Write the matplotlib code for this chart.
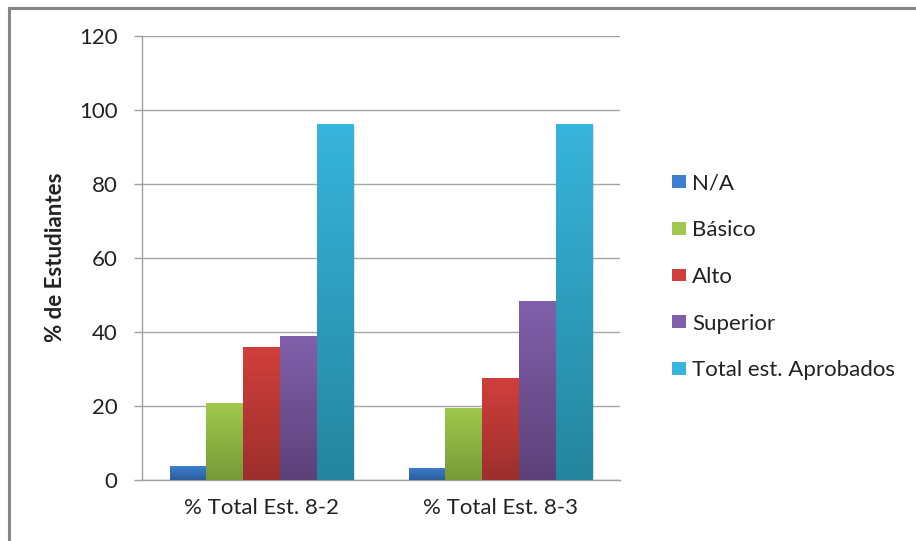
import numpy as np
import matplotlib.pyplot as plt
from matplotlib.colors import LinearSegmentedColormap
from matplotlib.patches import Rectangle, Patch

# datos del gráfico
grupos = ["% Total Est. 8-2", "% Total Est. 8-3"]
niveles = ["N/A", "Básico", "Alto", "Superior", "Total est. Aprobados"]
na = [3.7, 3.3]
basico = [20.7, 19.5]
alto = [35.9, 27.5]
superior = [38.8, 48.4]
aprobados = [96.3, 96.3]
valores = [na, basico, alto, superior, aprobados]

# colores (arriba, abajo) para el degradado de cada serie
colores = [("#3d7fcf", "#2c5d9a"),
           ("#a0c84c", "#789a38"),
           ("#d13f3c", "#9c2f2c"),
           ("#8160ab", "#5c4179"),
           ("#37b5dc", "#25859e")]

plt.rcParams['font.family'] = ['Lato', 'DejaVu Sans']

fig = plt.figure(figsize=(9.16, 5.41), dpi=100)
ax = fig.add_axes([142 / 916, 61 / 541, 478 / 916, 444 / 541])

# marco exterior del gráfico
fig.patches.append(Rectangle((9 / 916, -0.1), 1.2, 0.1 + 533 / 541, transform=fig.transFigure,
                             fill=False, edgecolor="#868686", linewidth=2.2))

x = np.arange(len(grupos))
ancho = 1 / 6.5
grad = np.linspace(0, 1, 256).reshape(-1, 1)

for i, (serie, (c_top, c_bot)) in enumerate(zip(valores, colores)):
    pos = x + (i - 2) * ancho
    barras = ax.bar(pos, serie, width=ancho, color="none", edgecolor="none", zorder=3)
    cmap = LinearSegmentedColormap.from_list("g%d" % i, [c_bot, c_top])
    for b in barras:
        x0, y0 = b.get_x(), b.get_y()
        w, h = b.get_width(), b.get_height()
        # sombra suave a la derecha y abajo
        ax.add_patch(Rectangle((x0 + 0.006, y0 - 0.6), w, h, facecolor="#000000",
                               alpha=0.12, edgecolor="none", zorder=2))
        im = ax.imshow(grad, cmap=cmap, origin="lower", aspect="auto",
                       extent=[x0, x0 + w, y0, y0 + h], zorder=3)
        im.set_clip_path(b)

ax.set_xlim(-0.5, 1.5)
ax.set_ylim(0, 120)
ax.set_yticks(range(0, 121, 20))
ax.set_xticks(x)
ax.set_xticklabels(grupos, fontsize=16, color="#222222")
ax.tick_params(axis="x", length=0, pad=13)
ax.tick_params(axis="y", length=6, width=1, color="#a0a0a0", pad=11.5,
               labelsize=16, labelcolor="#222222")

ax.grid(axis="y", color="#a6a6a6", linewidth=1, zorder=0)
ax.set_axisbelow(True)
for lado in ["top", "right"]:
    ax.spines[lado].set_visible(False)
for lado in ["left", "bottom"]:
    ax.spines[lado].set_color("#a0a0a0")
    ax.spines[lado].set_linewidth(1)

ax.set_ylabel("% de Estudiantes", fontsize=16, fontweight="bold", color="#222222")
ax.yaxis.set_label_coords(-0.16, 0.502)

handles = [Patch(facecolor=c_top, edgecolor="none") for c_top, _ in colores]
fig.legend(handles, niveles, loc="center left", bbox_to_anchor=(0.7213, 0.488),
           frameon=False, fontsize=16, handlelength=0.63, handleheight=0.5,
           handletextpad=0.27, labelspacing=1.2, borderpad=0, labelcolor="#222222")

fig.savefig("out.png", dpi=100)
